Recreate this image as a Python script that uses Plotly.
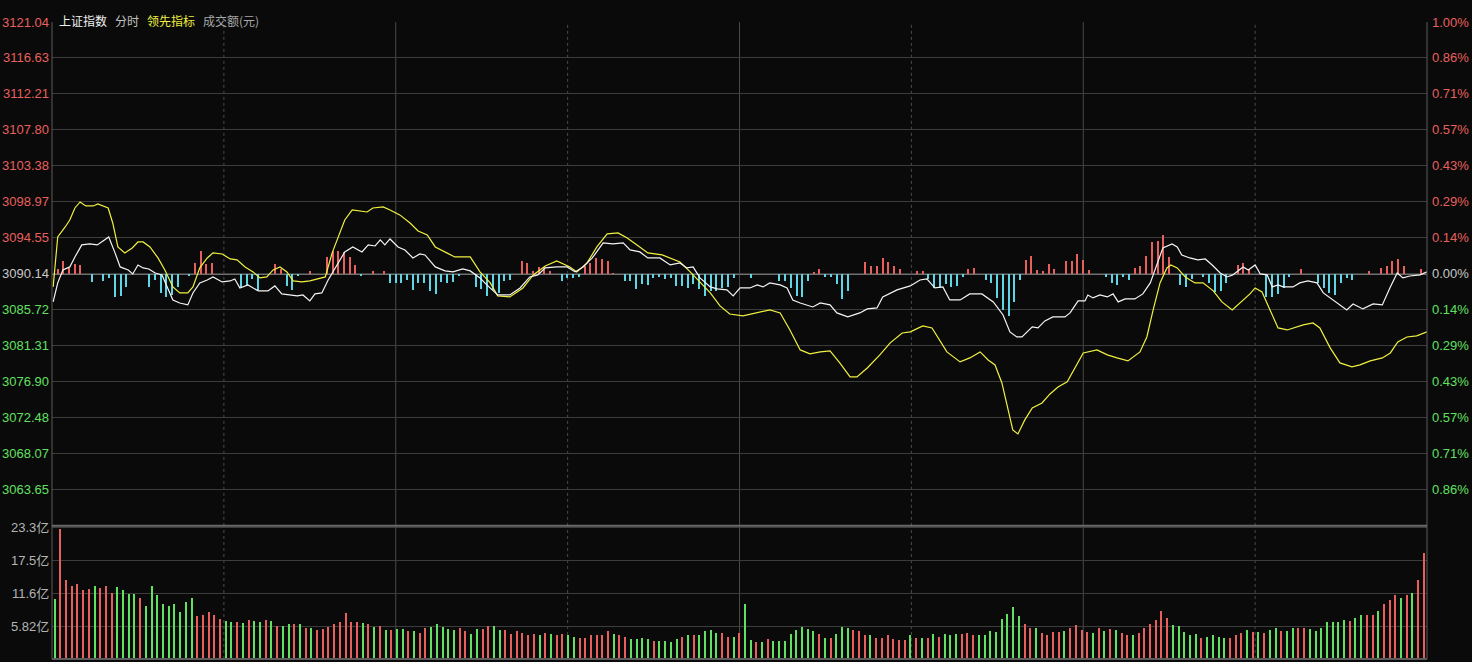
import plotly.graph_objects as go

# index (white) line: minute, price
idx_min = [0.2, 1.0, 1.9, 3.1, 4.0, 5.2, 6.6, 7.9, 8.9, 9.9, 11.0, 11.9, 13.3, 14.1, 15.0, 15.9, 16.9, 18.0, 19.2, 20.1,
           21.1, 22.3, 23.7, 24.6, 25.8, 27.1, 28.1, 29.7, 31.1, 31.9, 32.8, 34.2, 36.0, 37.7, 38.9, 40.1, 41.5, 42.8, 43.8, 45.0,
           45.9, 47.1, 48.2, 49.4, 51.1, 52.5, 54.1, 55.2, 56.4, 57.3, 58.1, 59.0, 60.4, 61.6, 63.0, 64.2, 65.1, 66.9, 68.6, 70.0,
           71.7, 73.0, 74.7, 75.9, 77.8, 79.9, 81.7, 83.4, 84.8, 86.1, 88.1, 89.9, 91.3, 92.7, 94.3, 96.2, 97.9, 99.7, 100.9, 102.6,
           104.0, 106.1, 107.9, 109.6, 110.8, 111.9, 113.1, 114.9, 116.1, 117.8, 118.9, 120.1, 121.8, 123.1, 124.1, 125.3, 127.1, 128.3, 129.3, 130.6,
           132.8, 134.1, 135.8, 137.0, 138.9, 141.0, 142.3, 144.0, 145.0, 147.5, 149.8, 151.5, 152.7, 154.1, 155.5, 156.7, 158.5, 160.2, 162.3, 164.3,
           166.0, 167.2, 168.4, 169.3, 171.1, 172.1, 173.3, 174.7, 176.8, 177.7, 179.1, 180.3, 180.8, 181.7, 182.9, 184.2, 185.2, 186.1, 187.3, 189.0,
           190.4, 191.7, 192.9, 193.9, 195.5, 196.4, 197.2, 198.6, 200.0, 201.3, 202.5, 203.9, 205.1, 206.1, 207.9, 208.8, 210.0, 210.9, 212.1, 213.0,
           214.0, 214.9, 216.6, 217.8, 219.2, 220.8, 221.9, 223.6, 226.0, 227.1, 228.8, 230.6, 232.2, 233.6, 234.8, 235.8, 237.0, 238.8, 240.0]
idx_price = [3086.71, 3089.04, 3090.63, 3091.00, 3092.22, 3093.70, 3093.82, 3093.70, 3094.19, 3094.68, 3092.72, 3091.00, 3090.63, 3090.14, 3091.24, 3090.88, 3090.75, 3090.26, 3090.02, 3088.55,
             3086.95, 3086.58, 3086.34, 3087.81, 3089.04, 3089.40, 3089.77, 3089.16, 3089.28, 3089.53, 3088.42, 3088.79, 3088.06, 3088.06, 3088.67, 3087.69, 3087.56, 3087.44, 3087.56, 3086.83,
             3087.69, 3087.81, 3089.40, 3090.88, 3092.84, 3093.45, 3092.84, 3093.70, 3093.57, 3094.31, 3093.70, 3094.43, 3093.45, 3093.08, 3092.10, 3092.59, 3092.47, 3091.00, 3090.51, 3090.39,
             3090.75, 3090.51, 3089.65, 3088.79, 3087.56, 3087.56, 3088.42, 3089.77, 3090.02, 3090.88, 3091.00, 3091.00, 3090.39, 3091.00, 3092.10, 3093.94, 3093.82, 3093.94, 3093.08, 3092.84,
             3092.10, 3092.10, 3091.24, 3091.49, 3090.88, 3091.00, 3089.65, 3088.55, 3088.30, 3088.18, 3087.44, 3088.42, 3088.42, 3088.79, 3088.55, 3089.04, 3088.79, 3088.42, 3086.95, 3086.58,
             3086.09, 3086.58, 3086.34, 3085.36, 3084.87, 3085.36, 3085.85, 3085.97, 3087.32, 3088.18, 3088.67, 3089.40, 3089.53, 3088.42, 3088.55, 3086.95, 3086.95, 3087.69, 3087.69, 3086.71,
             3085.11, 3083.03, 3082.41, 3082.41, 3083.64, 3083.52, 3084.38, 3084.87, 3084.87, 3085.36, 3086.83, 3086.83, 3087.56, 3087.20, 3087.56, 3087.32, 3087.69, 3086.71, 3087.07, 3087.07,
             3087.69, 3089.04, 3091.49, 3093.33, 3093.82, 3093.45, 3092.47, 3092.10, 3091.86, 3091.98, 3091.24, 3090.26, 3089.77, 3090.02, 3091.00, 3090.63, 3091.24, 3090.14, 3090.02, 3088.55,
             3088.79, 3088.55, 3088.55, 3089.04, 3089.28, 3089.04, 3087.81, 3086.95, 3085.73, 3086.46, 3085.85, 3086.46, 3086.34, 3088.55, 3090.26, 3089.65, 3089.89, 3090.02, 3090.39]

# leading indicator (yellow) line
lead_min = [0.2, 1.0, 2.3, 3.1, 4.0, 4.9, 5.9, 7.2, 8.0, 9.8, 10.6, 11.5, 12.7, 14.0, 15.0, 15.9, 17.1, 18.5, 19.7, 21.1,
            22.3, 23.7, 24.6, 25.8, 27.1, 28.1, 29.7, 31.1, 32.3, 33.7, 35.1, 36.3, 37.5, 38.6, 39.8, 41.0, 42.1, 43.6, 45.0, 46.4,
            47.7, 48.9, 49.9, 51.1, 52.4, 54.1, 55.0, 56.0, 57.8, 59.0, 60.7, 62.5, 63.9, 65.5, 66.9, 68.9, 70.3, 73.0, 74.7, 76.5,
            77.8, 79.9, 82.2, 84.0, 86.1, 88.1, 90.4, 91.6, 93.4, 95.1, 96.9, 98.8, 100.4, 102.1, 104.0, 106.5, 108.2, 109.6, 111.4, 113.1,
            114.9, 116.6, 118.3, 120.6, 123.1, 125.3, 127.1, 128.8, 130.6, 132.3, 134.1, 135.8, 137.5, 139.3, 140.5, 142.3, 144.5, 146.3, 148.4, 149.8,
            152.0, 153.6, 156.2, 158.5, 160.2, 162.0, 163.4, 164.6, 165.8, 166.9, 167.7, 168.6, 169.8, 171.1, 172.8, 174.2, 175.6, 177.2, 178.6, 180.0,
            182.4, 184.2, 185.9, 187.8, 189.9, 191.1, 192.2, 193.4, 194.6, 195.3, 196.4, 197.8, 199.5, 200.9, 202.7, 204.2, 206.0, 207.4, 209.1, 210.0,
            211.2, 212.6, 214.0, 215.6, 217.3, 218.4, 220.1, 221.3, 223.1, 224.8, 226.9, 228.3, 230.1, 232.2, 233.6, 234.9, 236.5, 238.2, 240.0]
lead_price = [3088.55, 3094.68, 3095.90, 3096.76, 3098.23, 3098.97, 3098.48, 3098.48, 3098.72, 3098.23, 3096.39, 3093.45, 3092.72, 3093.33, 3094.06, 3094.06, 3093.45, 3092.10, 3090.63, 3088.55,
              3087.81, 3087.81, 3088.55, 3090.88, 3092.10, 3092.72, 3092.59, 3091.98, 3091.86, 3091.00, 3090.39, 3089.65, 3089.77, 3090.63, 3091.00, 3090.39, 3089.28, 3089.16, 3089.28, 3089.53,
              3089.77, 3092.72, 3094.68, 3096.76, 3097.99, 3097.87, 3097.74, 3098.23, 3098.36, 3097.99, 3097.38, 3096.39, 3095.41, 3094.92, 3093.45, 3092.72, 3092.22, 3092.22, 3090.39, 3089.04,
              3087.44, 3087.32, 3088.42, 3090.02, 3091.12, 3091.73, 3091.00, 3090.39, 3091.49, 3093.45, 3095.05, 3095.17, 3094.55, 3093.70, 3092.72, 3092.47, 3091.98, 3091.61, 3090.39, 3089.16,
              3087.81, 3086.22, 3085.23, 3084.99, 3085.36, 3085.73, 3085.36, 3083.27, 3080.82, 3080.33, 3080.58, 3080.70, 3079.23, 3077.51, 3077.51, 3078.61, 3080.21, 3081.68, 3082.90, 3083.03,
              3083.76, 3083.52, 3080.58, 3079.35, 3079.84, 3080.58, 3079.59, 3078.98, 3076.77, 3073.46, 3071.01, 3070.52, 3072.24, 3073.71, 3074.32, 3075.42, 3076.28, 3076.90, 3078.74, 3080.45,
              3080.82, 3080.21, 3079.84, 3079.47, 3080.58, 3082.41, 3085.73, 3089.04, 3090.88, 3091.24, 3090.88, 3089.77, 3089.04, 3089.04, 3088.06, 3086.71, 3085.73, 3086.58, 3087.69, 3088.42,
              3087.93, 3085.73, 3083.52, 3083.27, 3083.64, 3083.89, 3084.13, 3083.52, 3081.07, 3079.23, 3078.74, 3078.98, 3079.47, 3079.84, 3080.45, 3081.80, 3082.41, 3082.54, 3083.03]

# red / cyan difference bars around the previous close
diff_min = [1, 2, 3, 4, 5, 7, 9, 10, 11, 12, 13, 17, 18, 19, 20, 21, 22, 24, 25, 26, 27, 28, 33, 34, 35, 36, 39, 40, 41, 42,
            43, 45, 48, 49, 50, 51, 52, 53, 54, 56, 58, 59, 60, 61, 62, 63, 64, 65, 66, 67, 68, 69, 70, 71, 74, 75, 76, 77, 78, 79,
            80, 82, 83, 84, 85, 86, 87, 89, 90, 91, 92, 93, 94, 95, 96, 97, 98, 100, 101, 102, 103, 104, 105, 106, 107, 108, 109, 110, 111, 112,
            113, 114, 115, 116, 117, 118, 119, 122, 127, 128, 129, 130, 131, 132, 133, 134, 135, 136, 137, 138, 139, 142, 143, 144, 145, 146, 147, 148, 151, 152,
            153, 154, 155, 156, 157, 158, 159, 160, 161, 163, 164, 165, 166, 167, 168, 169, 170, 171, 172, 173, 174, 175, 177, 178, 179, 180, 181, 184, 185, 186,
            187, 188, 189, 190, 191, 192, 193, 194, 195, 197, 198, 199, 201, 202, 203, 204, 205, 207, 208, 209, 212, 213, 214, 215, 216, 218, 221, 222, 223, 224,
            225, 226, 227, 230, 232, 233, 234, 235, 236, 239]
diff_val = [0.61, 1.59, 0.74, 1.23, 1.10, -0.98, -0.86, -0.49, -2.82, -2.70, -1.59, -1.59, -0.74, -2.33, -2.82, -2.58, -1.59, -0.25, 1.35, 2.82, 1.23, 1.35, -1.59, -1.47, -0.61, -1.96, 1.23, 0.61, -1.47, -1.96,
            -0.25, 0.37, 2.08, 2.82, 2.82, 2.70, 2.08, 1.10, -0.25, 0.37, 0.37, -1.10, -1.10, -1.10, -0.74, -1.96, -1.10, -1.10, -2.08, -2.45, -0.98, -1.10, -0.98, -0.25, -1.59, -1.84, -2.70, -1.96, -2.33, -0.82,
            -0.74, 1.63, 1.31, 0.37, 0.82, 0.90, 0.41, -0.90, -0.49, -0.49, -0.33, 1.02, 1.31, 1.96, 1.88, 1.55, 0.10, -0.82, -0.82, -1.88, -1.23, -1.31, -0.49, -0.33, -0.65, -0.49, -1.43, -1.43, -1.71, -1.23,
            -1.84, -2.65, -2.04, -2.04, -1.71, -1.55, -0.49, -0.49, -0.82, -0.82, -1.71, -2.65, -2.78, -0.90, 0.20, 0.61, -0.33, -0.41, -1.23, -3.10, -2.04, 1.43, 1.02, 1.02, 1.92, 1.47, 1.02, 0.61, 0.41, 0.33,
            -0.61, -1.71, -1.71, -1.23, -1.55, -1.43, -0.41, 0.57, 0.70, -0.74, -1.06, -2.98, -4.41, -5.15, -3.39, -0.74, 1.72, 2.21, 0.49, 0.41, 1.23, 0.61, 1.59, 1.59, 2.45, 1.72, 0.49, -0.41, -1.06, -1.35,
            -0.41, -0.74, 0.70, 1.02, 2.21, 3.92, 4.05, 4.78, 2.04, -1.35, -1.59, -0.61, -0.41, -1.06, -2.21, -2.04, -1.14, 1.10, 1.31, 0.57, -2.78, -2.82, -2.45, -1.75, -0.41, 0.61, -1.06, -1.75, -2.37, -2.57,
            -1.14, -0.53, -0.74, 0.41, 0.70, 0.98, 1.63, 1.80, 0.98, 0.57]

# turnover per minute (亿), r = up, g = down
volume = [10.7, 23.1, 14.1, 12.9, 13.3, 12.2, 12.5, 13.0, 12.6, 13.0, 11.7, 12.7, 12.3, 11.6, 11.5, 10.8, 9.5, 12.9, 11.3, 9.8,
          9.5, 9.7, 8.4, 10.2, 10.8, 7.7, 7.8, 8.4, 7.9, 7.2, 6.8, 6.6, 6.5, 6.4, 6.9, 6.8, 6.5, 6.9, 6.8, 5.9,
          5.8, 6.2, 6.3, 6.3, 5.6, 5.6, 5.1, 5.3, 5.7, 6.2, 6.5, 8.2, 6.5, 6.5, 6.4, 6.2, 5.7, 5.8, 5.1, 5.1,
          5.3, 5.3, 4.9, 5.0, 4.6, 5.6, 5.7, 6.3, 5.7, 5.3, 5.2, 5.6, 5.0, 4.4, 5.3, 5.3, 5.8, 5.9, 5.1,
          5.1, 4.5, 5.0, 4.7, 4.3, 4.4, 4.2, 4.7, 4.5, 4.3, 4.4, 4.2, 4.0, 3.8, 3.8, 4.3, 4.3, 4.2, 4.9, 4.5,
          4.3, 3.9, 3.6, 3.6, 3.8, 3.6, 3.3, 3.3, 3.3, 3.1, 3.6, 3.9, 4.3, 4.2, 4.2, 5.0, 5.1, 4.6, 4.7, 3.9,
          3.9, 4.7, 9.7, 3.4, 3.1, 3.1, 3.6, 3.3, 3.3, 3.3, 4.5, 5.1, 5.7, 5.3, 4.9, 4.4, 3.7, 3.7, 4.5, 5.7,
          5.6, 5.2, 4.9, 4.2, 4.2, 3.7, 3.8, 4.2, 3.6, 3.4, 3.4, 4.2, 3.8, 3.8, 3.8, 4.5, 4.0, 4.4, 4.2, 4.4,
          4.5, 4.7, 4.3,
          4.3, 4.2, 4.9, 4.8, 7.1, 8.0, 9.2, 7.6, 6.2, 5.6, 5.6, 4.7, 4.2, 4.8, 4.8, 5.0, 5.5, 6.0, 5.2, 4.8,
          4.6, 5.6, 5.0, 5.4, 5.2, 4.7, 4.2, 4.2, 4.7, 5.6, 6.2, 6.9, 8.5, 7.3, 6.1, 5.9, 4.8, 4.3, 4.4, 3.7,
          3.9, 4.2, 4.0, 3.7, 3.7, 4.2, 4.7, 5.2, 4.8, 4.8, 4.7, 5.2, 5.5, 5.0, 5.0, 5.5, 5.6, 5.6, 5.4, 5.0,
          5.6, 6.5, 6.6, 6.6, 6.9, 6.7, 7.3, 7.8, 7.8, 7.8, 8.5, 9.7, 10.5, 11.4, 10.9, 11.4, 11.7, 14.1, 18.9]
vol_dir = ("grrrrrrgrr" "rggggrgggg" "gggggrrrrr" "ggrgrggrgr" "ggrgrgrrrr" "rrrrgrgrgr" "ggrgrrgggg" "grrggrrgg"
           "rrrrrrgrgr" "rggrrrrrrg" "rrggggrggg" "grgrggggrr" "grggrgrggg" "gggggrgrgg" "grrrgrrrrr" "rgrgrgrggg" "rrr"
           "g" "gggggggrrg" "rrrrgrrrrg" "rgrgrrgrrr" "rrrgggggrg" "gggrrrgrgr" "ggrggrrggg" "ggggrggrrg" "rrrgrgrr")

base = 3090.14
price_ticks = [3121.04, 3116.63, 3112.21, 3107.80, 3103.38, 3098.97, 3094.55, 3090.14,
               3085.72, 3081.31, 3076.90, 3072.48, 3068.07, 3063.65]
pct_labels = ["1.00%", "0.86%", "0.71%", "0.57%", "0.43%", "0.29%", "0.14%", "0.00%",
              "0.14%", "0.29%", "0.43%", "0.57%", "0.71%", "0.86%"]
vol_ticks = [5.82, 11.6, 17.5, 23.3]

RED, GREEN, CYAN = "#e8605e", "#62e062", "#5ed6e6"
GRID = "#3c3c3c"
SPLIT = 0.209

fig = go.Figure()
fig.add_trace(go.Bar(x=diff_min, y=diff_val, base=base, width=0.25,
                     marker=dict(color=[RED if v > 0 else CYAN for v in diff_val], line=dict(width=0)),
                     xaxis="x", yaxis="y"))
fig.add_trace(go.Scatter(x=lead_min, y=lead_price, mode="lines", line=dict(color="#f0f040", width=1.2)))
fig.add_trace(go.Scatter(x=idx_min, y=idx_price, mode="lines", line=dict(color="#f4f4f4", width=1.2)))
fig.add_trace(go.Bar(x=list(range(len(volume))), y=volume, width=0.26,
                     marker=dict(color=[RED if c == "r" else GREEN for c in vol_dir], line=dict(width=0)),
                     xaxis="x2", yaxis="y2"))

fig.update_layout(
    width=1472, height=662, margin=dict(l=52, r=45, t=22, b=3),
    paper_bgcolor="#0a0a0a", plot_bgcolor="#0a0a0a", showlegend=False, bargap=0,
    font=dict(family="Liberation Sans, Noto Sans CJK SC", size=13),
    xaxis=dict(range=[0, 240], showticklabels=False, showgrid=False, zeroline=False),
    xaxis2=dict(range=[-0.5, 240.5], showticklabels=False, showgrid=False, zeroline=False, anchor="y2"),
    yaxis=dict(domain=[SPLIT, 1], range=[3059.24, 3121.04], tickvals=price_ticks, showticklabels=False,
               gridcolor=GRID, zeroline=False),
    yaxis2=dict(domain=[0, SPLIT], range=[0, 23.6], tickvals=vol_ticks, showticklabels=False,
                gridcolor=GRID, zeroline=False),
)

# price / percent labels in market colours
for p, lab in zip(price_ticks, pct_labels):
    col = RED if p > base + 0.01 else (GREEN if p < base - 0.01 else "#c8c8c8")
    fig.add_annotation(x=0, xref="paper", y=p, yref="y", text=f"{p:.2f}", showarrow=False,
                       xanchor="right", xshift=-1, font=dict(color=col, size=13))
    fig.add_annotation(x=1, xref="paper", y=p, yref="y", text=lab, showarrow=False,
                       xanchor="left", xshift=3, font=dict(color=col, size=13))
for v in vol_ticks:
    fig.add_annotation(x=0, xref="paper", y=v, yref="y2", text=f"{v}亿", showarrow=False,
                       xanchor="right", xshift=-1, font=dict(color="#b4b4b4", size=13))

# header
for txt, x0, col in [("上证指数", 57, "#f0f0f0"), ("分时", 113, "#c0c0c0"),
                     ("领先指标", 145, "#f0f040"), ("成交额(元)", 201, "#a8a8a8")]:
    fig.add_annotation(x=(x0 - 52) / 1375, xref="paper", y=1, yref="paper", yshift=12, text=txt,
                       showarrow=False, xanchor="left", font=dict(color=col, size=12,
                                                                   family="Noto Sans CJK SC"))

# session grid lines, frame and baseline
for m in [30, 60, 90, 120, 150, 180, 210]:
    dash = "solid" if m % 60 == 0 else "dot"
    for yr in ["y domain", "y2 domain"]:
        fig.add_shape(type="line", x0=m, x1=m, xref="x", y0=0, y1=1, yref=yr,
                      line=dict(color="#4a4a4a", width=1, dash=dash), layer="below")
for xx in [0, 1]:
    fig.add_shape(type="line", x0=xx, x1=xx, xref="paper", y0=0, y1=1, yref="paper",
                  line=dict(color="#5a5a5a", width=1))
fig.add_shape(type="line", x0=0, x1=1, xref="paper", y0=SPLIT, y1=SPLIT, yref="paper",
              line=dict(color="#6a6a6a", width=2))
fig.add_shape(type="line", x0=0, x1=1, xref="paper", y0=0, y1=0, yref="paper",
              line=dict(color="#5a5a5a", width=2))
fig.add_shape(type="line", x0=0, x1=1, xref="paper", y0=base, y1=base, yref="y",
              line=dict(color="#707070", width=2), layer="below")

fig.write_html("out.html", config={"displayModeBar": False},
               post_script="document.body.style.margin='0';")
